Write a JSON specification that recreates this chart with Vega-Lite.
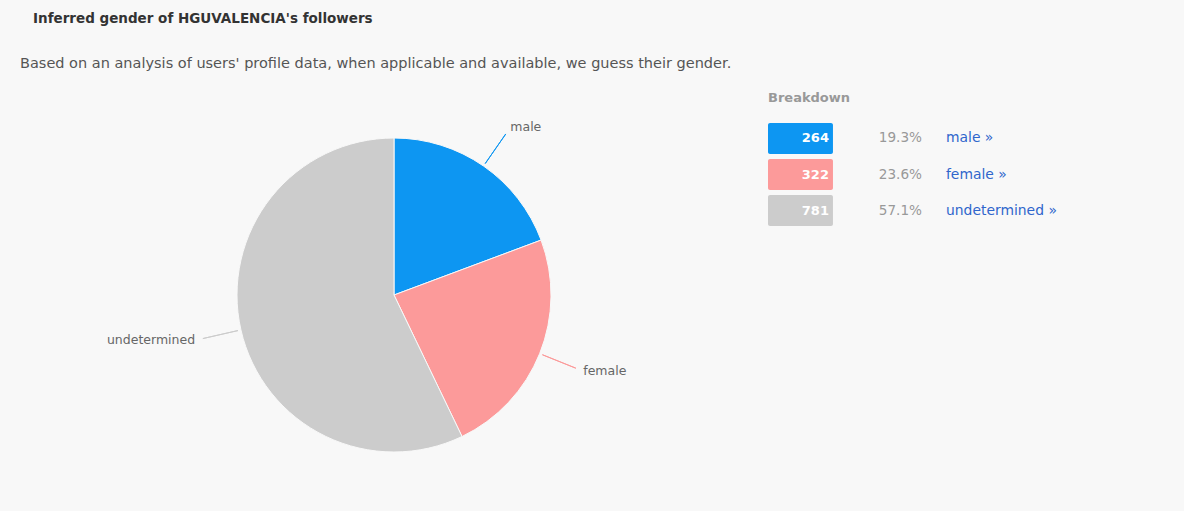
{
  "$schema": "https://vega.github.io/schema/vega-lite/v6.json",
  "background": "#f8f8f8",
  "padding": {"left": 20, "top": 12, "right": 20, "bottom": 41},
  "bounds": "flush",
  "spacing": 0,
  "config": {"view": {"stroke": null}, "font": "DejaVu Sans"},
  "title": {
    "text": "Inferred gender of HGUVALENCIA's followers",
    "anchor": "start",
    "dx": 13,
    "font": "DejaVu Sans",
    "fontSize": 13.5,
    "fontWeight": "bold",
    "color": "#333333",
    "offset": 30
  },
  "datasets": {
    "gender": [
      {"gender": "male", "count": 264, "pct": 0.193},
      {"gender": "female", "count": 322, "pct": 0.236},
      {"gender": "undetermined", "count": 781, "pct": 0.571}
    ]
  },
  "hconcat": [
    {
      "width": 748,
      "height": 352,
      "title": {
        "text": "Based on an analysis of users' profile data, when applicable and available, we guess their gender.",
        "anchor": "start",
        "font": "DejaVu Sans",
        "fontSize": 14.5,
        "fontWeight": "normal",
        "color": "#555555",
        "offset": 48
      },
      "data": {"name": "gender"},
      "layer": [
        {
          "mark": {"type": "arc", "outerRadius": 157, "stroke": "#f8f8f8", "strokeWidth": 1},
          "encoding": {
            "theta": {"field": "count", "type": "quantitative", "stack": true},
            "order": {"field": "count", "sort": "ascending"},
            "color": {
              "field": "gender",
              "type": "nominal",
              "scale": {"domain": ["male", "female", "undetermined"], "range": ["#0d96f2", "#fc9a9a", "#cccccc"]},
              "legend": null
            }
          }
        },
        {
          "mark": {
            "type": "arc",
            "filled": false,
            "innerRadius": 160,
            "outerRadius": 196,
            "strokeWidth": 1,
            "theta2": 0,
            "thetaOffset": {"expr": "-(datum.count / 1367 * PI)"},
            "theta2Offset": {"expr": "datum.count / 1367 * PI"}
          },
          "encoding": {
            "theta": {"field": "count", "type": "quantitative", "stack": true},
            "order": {"field": "count", "sort": "ascending"},
            "color": {"field": "gender", "type": "nominal", "legend": null}
          }
        },
        {
          "mark": {
            "type": "text",
            "radius": 204,
            "align": {"expr": "datum.gender === 'undetermined' ? 'right' : 'left'"},
            "baseline": "middle",
            "fontSize": 12.5,
            "color": "#666666"
          },
          "encoding": {
            "theta": {"field": "count", "type": "quantitative", "stack": true},
            "order": {"field": "count", "sort": "ascending"},
            "text": {"field": "gender", "type": "nominal"}
          }
        }
      ]
    },
    {
      "width": 396,
      "height": 111,
      "title": {
        "text": "Breakdown",
        "anchor": "start",
        "font": "DejaVu Sans",
        "fontSize": 13,
        "fontWeight": "bold",
        "color": "#999999",
        "offset": 14
      },
      "data": {"name": "gender"},
      "encoding": {
        "y": {
          "field": "gender",
          "type": "nominal",
          "sort": ["male", "female", "undetermined"],
          "scale": {"paddingInner": 0.139, "paddingOuter": 0.111},
          "axis": null
        }
      },
      "layer": [
        {
          "mark": {"type": "rect", "cornerRadius": 2},
          "encoding": {
            "x": {
              "datum": "box",
              "type": "nominal",
              "scale": {"type": "band", "domain": ["box", "pct", "label"], "paddingInner": 0.27, "paddingOuter": 0.86, "align": 0},
              "axis": null
            },
            "color": {
              "field": "gender",
              "type": "nominal",
              "scale": {"domain": ["male", "female", "undetermined"], "range": ["#0d8ff2", "#fa9090", "#cccccc"]},
              "legend": null
            }
          }
        },
        {
          "mark": {"type": "text", "align": "right", "baseline": "middle", "dx": -4, "fontSize": 13, "fontWeight": "bold", "color": "#ffffff"},
          "encoding": {
            "x": {"datum": "box", "type": "nominal", "bandPosition": 1},
            "text": {"field": "count", "type": "quantitative"}
          }
        },
        {
          "mark": {"type": "text", "align": "right", "baseline": "middle", "fontSize": 13.6, "color": "#999999"},
          "encoding": {
            "x": {"datum": "pct", "type": "nominal", "bandPosition": 1},
            "text": {"field": "pct", "type": "quantitative", "format": ".1%"}
          }
        },
        {
          "mark": {"type": "text", "align": "left", "baseline": "middle", "fontSize": 13.9, "color": "#2f66cc", "text": {"expr": "datum.gender + ' »'"}},
          "encoding": {
            "x": {"datum": "label", "type": "nominal", "bandPosition": 0}
          }
        }
      ]
    }
  ]
}
